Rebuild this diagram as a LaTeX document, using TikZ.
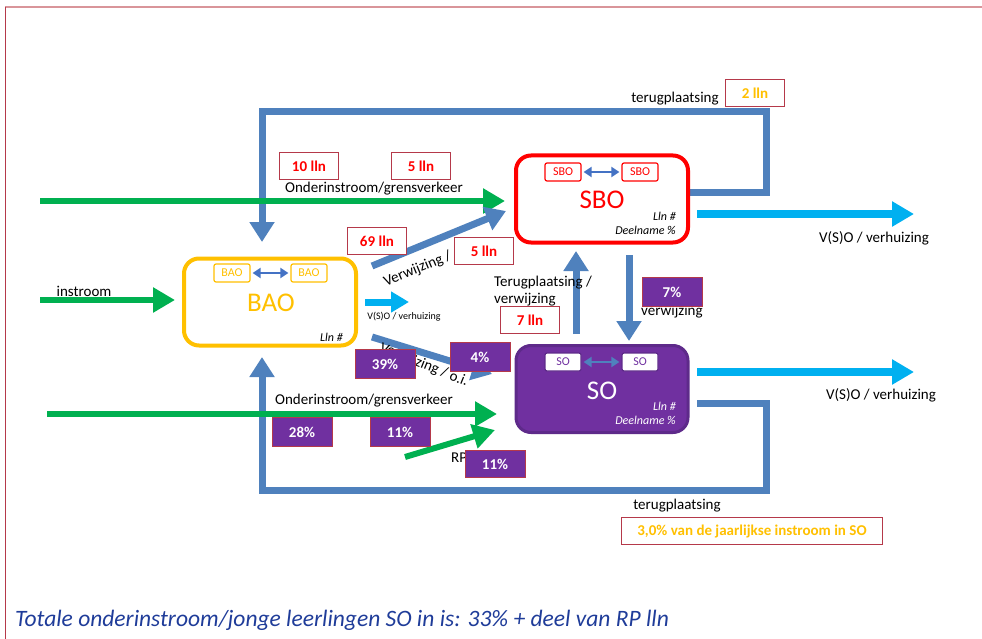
\documentclass[tikz,border=0pt]{standalone}
\usepackage{fontspec}
\setmainfont{Carlito}
\usetikzlibrary{arrows.meta}
\definecolor{loopblue}{HTML}{4F81BD}
\definecolor{cyanA}{HTML}{00B0F0}
\definecolor{greenA}{HTML}{00B050}
\definecolor{orangeA}{HTML}{FFC000}
\definecolor{redA}{HTML}{FF0000}
\definecolor{purpleA}{HTML}{7030A0}
\definecolor{purpleB}{HTML}{5E2A8A}
\definecolor{boxred}{HTML}{B5394A}
\definecolor{framepink}{HTML}{D9959A}
\definecolor{smallblue}{HTML}{4472C4}
\definecolor{navyA}{HTML}{1F3C99}
\tikzset{
  bigarrow/.style={line width=7pt, -{Triangle[width=24pt,length=20pt]}},
  bluearrow/.style={bigarrow, draw=loopblue},
  cyanarrow/.style={line width=8pt, draw=cyanA, -{Triangle[width=24pt,length=22pt]}},
  greenarrow/.style={line width=6pt, draw=greenA, -{Triangle[width=24pt,length=22pt]}},
  lbl/.style={font=\fontsize{15}{17}\selectfont, inner sep=0pt},
  redlbl/.style={draw=boxred, line width=0.8pt, fill=white, minimum width=59pt, minimum height=27pt, inner sep=0pt, text=redA, font=\fontsize{15}{17}\selectfont\bfseries},
  purplbl/.style={draw=boxred, line width=0.8pt, fill=purpleA, minimum width=60pt, minimum height=29pt, inner sep=0pt, text=white, font=\fontsize{15}{17}\selectfont\bfseries},
  bigbox/.style={rounded corners=15pt, line width=4pt, minimum width=172pt, minimum height=87pt},
  smallbox/.style={rounded corners=2pt, line width=1.2pt, minimum width=36pt, minimum height=18pt, inner sep=0pt, font=\fontsize{12}{14}\selectfont},
  dblarrow/.style={line width=2.2pt, draw=smallblue, {Triangle[width=10pt,length=8pt]}-{Triangle[width=10pt,length=8pt]}, shorten <=2pt, shorten >=2pt},
  meta/.style={font=\fontsize{12}{14}\selectfont\itshape, inner sep=0pt, anchor=east}
}
\begin{document}
\begin{tikzpicture}[x=1pt,y=-1pt]
\useasboundingbox (0,0) rectangle (982,639);
% frame
\draw[framepink, line width=2pt] (5,7) -- (982,7);
\draw[boxred, line width=0.8pt] (5,7) -- (5,639);

% coordinates for loops
\coordinate (sbooutr) at (689,193);
\coordinate (toprt) at (766,193);
\coordinate (topru) at (766,112);
\coordinate (toplu) at (262,112);
\coordinate (baotop) at (262,242);
\coordinate (sooutr) at (697,403);
\coordinate (botrt) at (766,403);
\coordinate (botrd) at (766,490);
\coordinate (botld) at (262,490);
\coordinate (baobot) at (262,357);

\draw[bluearrow] (sbooutr) -- (toprt) -- (topru) -- (toplu) -- (baotop);
\draw[bluearrow] (sooutr) -- (botrt) -- (botrd) -- (botld) -- (baobot);

% main boxes
\node[bigbox, draw=orangeA, fill=white] (bao) at (270,302) {};
\node[bigbox, draw=redA, fill=white] (sbo) at (602,199) {};
\node[bigbox, draw=purpleB, fill=purpleA, line width=3pt] (so) at (602,389) {};

% BAO contents
\node[smallbox, draw=orangeA, text=orangeA] (bao1) at (232,273) {BAO};
\node[smallbox, draw=orangeA, text=orangeA] (bao2) at (309,273) {BAO};
\draw[dblarrow] (bao1) -- (bao2);
\node[text=orangeA, font=\fontsize{27}{30}\selectfont, inner sep=0pt] (baot) at (271,303) {BAO};
\node[meta] (baolln) at (343,337) {Lln \#};

% SBO contents
\node[smallbox, draw=redA, text=redA] (sbo1) at (563,172) {SBO};
\node[smallbox, draw=redA, text=redA] (sbo2) at (640,172) {SBO};
\draw[dblarrow] (sbo1) -- (sbo2);
\node[text=redA, font=\fontsize{27}{30}\selectfont, inner sep=0pt] (sbot) at (602,200) {SBO};
\node[meta] (sbolln) at (676,216) {Lln \#};
\node[meta] (sbodn) at (676,230) {Deelname \%};

% SO contents
\node[smallbox, draw=purpleB, fill=white, text=purpleA] (so1) at (563,362) {SO};
\node[smallbox, draw=purpleB, fill=white, text=purpleA] (so2) at (640,362) {SO};
\draw[dblarrow, draw=loopblue] (so1) -- (so2);
\node[text=white, font=\fontsize{27}{30}\selectfont, inner sep=0pt] (sot) at (602,391) {SO};
\node[meta, text=white] (solln) at (676,406) {Lln \#};
\node[meta, text=white] (sodn) at (676,420) {Deelname \%};

% green arrows
\coordinate (g1s) at (40,201);
\coordinate (g1e) at (505,201);
\draw[greenarrow] (g1s) -- (g1e);
\coordinate (g2s) at (40,300);
\coordinate (g2e) at (175,300);
\draw[greenarrow] (g2s) -- (g2e);
\coordinate (g3s) at (47,414);
\coordinate (g3e) at (497,414);
\draw[greenarrow] (g3s) -- (g3e);
\coordinate (g4s) at (405,457);
\coordinate (g4e) at (495,430);
\draw[greenarrow] (g4s) -- (g4e);

% blue diagonal arrows
\coordinate (d1s) at (372,266);
\coordinate (d1e) at (506,211);
\draw[bluearrow] (d1s) -- (d1e);
\coordinate (d2s) at (372,337);
\coordinate (d2e) at (492,374);
\draw[bluearrow] (d2s) -- (d2e);

% vertical arrows between SBO and SO
\coordinate (v1s) at (629,255);
\coordinate (v1e) at (629,341);
\draw[bluearrow] (v1s) -- (v1e);
\coordinate (v2s) at (576,334);
\coordinate (v2e) at (576,251);
\draw[bluearrow] (v2s) -- (v2e);

% cyan arrows
\coordinate (c1s) at (365,302);
\coordinate (c1e) at (409,302);
\draw[cyanarrow, line width=7pt, -{Triangle[width=20pt,length=18pt]}] (c1s) -- (c1e);
\coordinate (c2s) at (697,214);
\coordinate (c2e) at (914,214);
\draw[cyanarrow] (c2s) -- (c2e);
\coordinate (c3s) at (697,372);
\coordinate (c3e) at (914,372);
\draw[cyanarrow] (c3s) -- (c3e);

% text labels
\node[lbl] (ond1) at (374,189) {Onderinstroom/grensverkeer};
\node[lbl] (instr) at (84,291) {instroom};
\node[lbl] (ond2) at (364,401) {Onderinstroom/grensverkeer};
\node[lbl, anchor=west] (rp) at (451,458) {RP};
\node[lbl, rotate=22.5] (verw1) at (428,265) {Verwijzing / o.i.};
\node[lbl, rotate=-22] (verw2) at (424,365) {Verwijzing / o.i.};
\node[font=\fontsize{10}{12}\selectfont, inner sep=0pt] (vso0) at (404,317) {V(S)O / verhuizing};
\node[lbl] (vso1) at (874,238) {V(S)O / verhuizing};
\node[lbl] (vso2) at (881,395) {V(S)O / verhuizing};
\node[lbl, anchor=west, align=left] (terug1) at (494,291) {Terugplaatsing /\\verwijzing};
\node[lbl, anchor=west] (verw3) at (641,312) {verwijzing};
\node[lbl] (terug2) at (675,99) {terugplaatsing};
\node[lbl] (terug3) at (677,506) {terugplaatsing};

% red-bordered value boxes
\node[redlbl] (b10) at (309,166) {10 lln};
\node[redlbl] (b5a) at (421,166) {5 lln};
\node[redlbl] (b69) at (377,241) {69 lln};
\node[redlbl] (b5b) at (484,251) {5 lln};
\node[redlbl] (b7) at (530,320) {7 lln};
\node[redlbl, text=orangeA] (b2) at (755,93) {2 lln};
\node[redlbl, text=orangeA, minimum width=261pt] (b3) at (752,531) {3,0\% van de jaarlijkse instroom in SO};

% purple value boxes
\node[purplbl] (p7) at (672,292) {7\%};
\node[purplbl] (p39) at (385,364) {39\%};
\node[purplbl] (p4) at (480,357) {4\%};
\node[purplbl] (p28) at (302,432) {28\%};
\node[purplbl] (p11a) at (400,432) {11\%};
\node[purplbl, minimum height=27pt] (p11b) at (495,464) {11\%};

% bottom note
\node[anchor=west, inner sep=0pt, text=navyA, font=\fontsize{23.5}{27}\selectfont\itshape] (note) at (15,620) {Totale onderinstroom/jonge leerlingen SO in is: 33\% + deel van RP lln};
\end{tikzpicture}
\end{document}
